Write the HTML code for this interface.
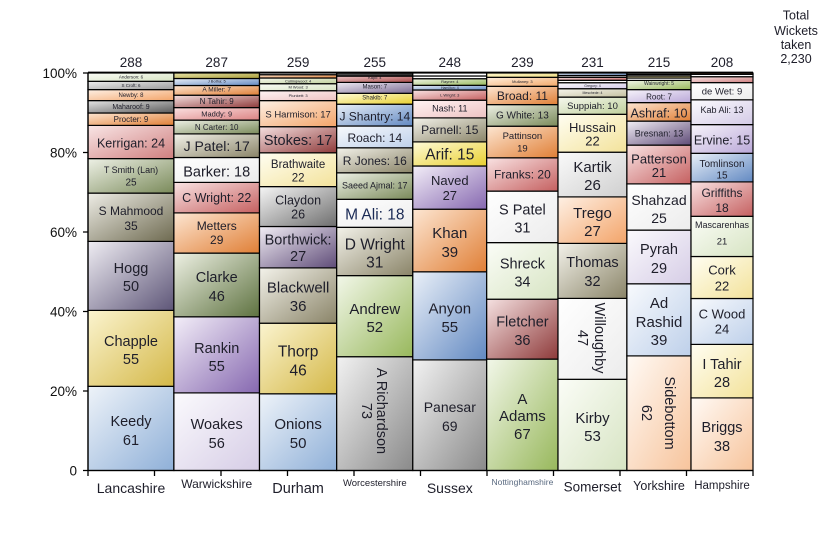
<!DOCTYPE html>
<html><head><meta charset="utf-8"><style>
html,body{margin:0;padding:0;background:#fff;}
svg{display:block;font-family:"Liberation Sans",sans-serif;}
text{fill:#1e1e2a;text-anchor:middle;}
.ax{text-anchor:end;fill:#111;}
</style></head><body>
<svg width="840" height="560" viewBox="0 0 840 560" xmlns="http://www.w3.org/2000/svg">
<defs>
<linearGradient id="bl" x1="0" y1="0" x2="1" y2="1"><stop offset="0" stop-color="#eef3f9"/><stop offset="1" stop-color="#8fb0d8"/></linearGradient>
<linearGradient id="ye" x1="0" y1="0" x2="1" y2="1"><stop offset="0" stop-color="#fbf4cf"/><stop offset="1" stop-color="#d4b848"/></linearGradient>
<linearGradient id="pg" x1="0" y1="0" x2="1" y2="1"><stop offset="0" stop-color="#efedf3"/><stop offset="1" stop-color="#5e5678"/></linearGradient>
<linearGradient id="kd" x1="0" y1="0" x2="1" y2="1"><stop offset="0" stop-color="#eeede6"/><stop offset="1" stop-color="#6e6a50"/></linearGradient>
<linearGradient id="sg" x1="0" y1="0" x2="1" y2="1"><stop offset="0" stop-color="#eef1e6"/><stop offset="1" stop-color="#7a8a5a"/></linearGradient>
<linearGradient id="pk" x1="0" y1="0" x2="1" y2="1"><stop offset="0" stop-color="#f9e6e6"/><stop offset="1" stop-color="#cf7f7f"/></linearGradient>
<linearGradient id="or" x1="0" y1="0" x2="1" y2="1"><stop offset="0" stop-color="#fde6d2"/><stop offset="1" stop-color="#e07f36"/></linearGradient>
<linearGradient id="gr" x1="0" y1="0" x2="1" y2="1"><stop offset="0" stop-color="#e6e6e6"/><stop offset="1" stop-color="#5a5a5a"/></linearGradient>
<linearGradient id="pe" x1="0" y1="0" x2="1" y2="1"><stop offset="0" stop-color="#fef0e4"/><stop offset="1" stop-color="#f3a469"/></linearGradient>
<linearGradient id="gl" x1="0" y1="0" x2="1" y2="1"><stop offset="0" stop-color="#eeeeee"/><stop offset="1" stop-color="#9a9a9a"/></linearGradient>
<linearGradient id="pgn" x1="0" y1="0" x2="1" y2="1"><stop offset="0" stop-color="#fbfdf7"/><stop offset="1" stop-color="#d7e4c3"/></linearGradient>
<linearGradient id="lv" x1="0" y1="0" x2="1" y2="1"><stop offset="0" stop-color="#fbfafd"/><stop offset="1" stop-color="#d6cde6"/></linearGradient>
<linearGradient id="pu" x1="0" y1="0" x2="1" y2="1"><stop offset="0" stop-color="#f3eef8"/><stop offset="1" stop-color="#8668b0"/></linearGradient>
<linearGradient id="ol" x1="0" y1="0" x2="1" y2="1"><stop offset="0" stop-color="#eef1e4"/><stop offset="1" stop-color="#5e7240"/></linearGradient>
<linearGradient id="rd" x1="0" y1="0" x2="1" y2="1"><stop offset="0" stop-color="#f9e3e3"/><stop offset="1" stop-color="#c56060"/></linearGradient>
<linearGradient id="wh" x1="0" y1="0" x2="1" y2="1"><stop offset="0" stop-color="#ffffff"/><stop offset="1" stop-color="#ececec"/></linearGradient>
<linearGradient id="kh" x1="0" y1="0" x2="1" y2="1"><stop offset="0" stop-color="#f3f2ea"/><stop offset="1" stop-color="#8a8468"/></linearGradient>
<linearGradient id="mp" x1="0" y1="0" x2="1" y2="1"><stop offset="0" stop-color="#fbe1e1"/><stop offset="1" stop-color="#dc8383"/></linearGradient>
<linearGradient id="dr" x1="0" y1="0" x2="1" y2="1"><stop offset="0" stop-color="#f5e1e1"/><stop offset="1" stop-color="#8e3a3a"/></linearGradient>
<linearGradient id="bm" x1="0" y1="0" x2="1" y2="1"><stop offset="0" stop-color="#eaf0f8"/><stop offset="1" stop-color="#6289c2"/></linearGradient>
<linearGradient id="oy" x1="0" y1="0" x2="1" y2="1"><stop offset="0" stop-color="#e8e4a8"/><stop offset="1" stop-color="#a89c38"/></linearGradient>
<linearGradient id="ly" x1="0" y1="0" x2="1" y2="1"><stop offset="0" stop-color="#fffef2"/><stop offset="1" stop-color="#f3e29a"/></linearGradient>
<linearGradient id="cg" x1="0" y1="0" x2="1" y2="1"><stop offset="0" stop-color="#f6f6f6"/><stop offset="1" stop-color="#6e6e6e"/></linearGradient>
<linearGradient id="bp" x1="0" y1="0" x2="1" y2="1"><stop offset="0" stop-color="#f2eef5"/><stop offset="1" stop-color="#5f4c78"/></linearGradient>
<linearGradient id="pp" x1="0" y1="0" x2="1" y2="1"><stop offset="0" stop-color="#fff4f4"/><stop offset="1" stop-color="#edc2c2"/></linearGradient>
<linearGradient id="ag" x1="0" y1="0" x2="1" y2="1"><stop offset="0" stop-color="#f2f2f2"/><stop offset="1" stop-color="#8a8a8a"/></linearGradient>
<linearGradient id="gn" x1="0" y1="0" x2="1" y2="1"><stop offset="0" stop-color="#f2f7e9"/><stop offset="1" stop-color="#98b85c"/></linearGradient>
<linearGradient id="pb" x1="0" y1="0" x2="1" y2="1"><stop offset="0" stop-color="#f8fafd"/><stop offset="1" stop-color="#bed0ea"/></linearGradient>
<linearGradient id="yb" x1="0" y1="0" x2="1" y2="1"><stop offset="0" stop-color="#fffbd8"/><stop offset="1" stop-color="#e8cf30"/></linearGradient>
<linearGradient id="ml" x1="0" y1="0" x2="1" y2="1"><stop offset="0" stop-color="#eeeaf2"/><stop offset="1" stop-color="#7c6c94"/></linearGradient>
<linearGradient id="kr" x1="0" y1="0" x2="1" y2="1"><stop offset="0" stop-color="#eec8c8"/><stop offset="1" stop-color="#a84848"/></linearGradient>
<linearGradient id="sp" x1="0" y1="0" x2="1" y2="1"><stop offset="0" stop-color="#fffaf5"/><stop offset="1" stop-color="#f7c49c"/></linearGradient>
<linearGradient id="kt" x1="0" y1="0" x2="1" y2="1"><stop offset="0" stop-color="#fafafa"/><stop offset="1" stop-color="#cfcfcf"/></linearGradient>
<linearGradient id="spg" x1="0" y1="0" x2="1" y2="1"><stop offset="0" stop-color="#f6f8ee"/><stop offset="1" stop-color="#bfd09c"/></linearGradient>
<linearGradient id="mk" x1="0" y1="0" x2="1" y2="1"><stop offset="0" stop-color="#f7f6ee"/><stop offset="1" stop-color="#c4c0a0"/></linearGradient>
<linearGradient id="plv" x1="0" y1="0" x2="1" y2="1"><stop offset="0" stop-color="#fcfbfe"/><stop offset="1" stop-color="#d3cae6"/></linearGradient>
<linearGradient id="po" x1="0" y1="0" x2="1" y2="1"><stop offset="0" stop-color="#fff0e0"/><stop offset="1" stop-color="#f2a868"/></linearGradient>
<linearGradient id="yl" x1="0" y1="0" x2="1" y2="1"><stop offset="0" stop-color="#fff8d0"/><stop offset="1" stop-color="#eedc80"/></linearGradient>
<linearGradient id="rv" x1="0" y1="0" x2="1" y2="1"><stop offset="0" stop-color="#f7f4fb"/><stop offset="1" stop-color="#baa8d8"/></linearGradient>
<linearGradient id="rk" x1="0" y1="0" x2="1" y2="1"><stop offset="0" stop-color="#555"/><stop offset="1" stop-color="#222"/></linearGradient>
</defs>

<g stroke="#000" stroke-width="1.2">
<!-- Lancashire x=88 w=85.9 -->
<rect x="88" y="386.3" width="85.9" height="84.2" fill="url(#bl)"/>
<rect x="88" y="310.4" width="85.9" height="75.9" fill="url(#ye)"/>
<rect x="88" y="241.4" width="85.9" height="69" fill="url(#pg)"/>
<rect x="88" y="193.1" width="85.9" height="48.3" fill="url(#kd)"/>
<rect x="88" y="158.6" width="85.9" height="34.5" fill="url(#sg)"/>
<rect x="88" y="125.4" width="85.9" height="33.2" fill="url(#pk)"/>
<rect x="88" y="113" width="85.9" height="12.4" fill="url(#or)"/>
<rect x="88" y="100.6" width="85.9" height="12.4" fill="url(#gr)"/>
<rect x="88" y="89.6" width="85.9" height="11" fill="url(#pe)"/>
<rect x="88" y="81.3" width="85.9" height="8.3" fill="url(#gl)"/>
<rect x="88" y="73" width="85.9" height="8.3" fill="url(#pgn)"/>
<!-- Warwickshire x=173.9 w=85.6 -->
<rect x="173.9" y="392.9" width="85.6" height="77.6" fill="url(#lv)"/>
<rect x="173.9" y="316.8" width="85.6" height="76.1" fill="url(#pu)"/>
<rect x="173.9" y="253.1" width="85.6" height="63.7" fill="url(#ol)"/>
<rect x="173.9" y="212.9" width="85.6" height="40.2" fill="url(#or)"/>
<rect x="173.9" y="182.4" width="85.6" height="30.5" fill="url(#rd)"/>
<rect x="173.9" y="157.5" width="85.6" height="24.9" fill="url(#wh)"/>
<rect x="173.9" y="133.9" width="85.6" height="23.6" fill="url(#kh)"/>
<rect x="173.9" y="120.1" width="85.6" height="13.8" fill="url(#sg)"/>
<rect x="173.9" y="107.6" width="85.6" height="12.5" fill="url(#mp)"/>
<rect x="173.9" y="95.2" width="85.6" height="12.4" fill="url(#dr)"/>
<rect x="173.9" y="85.5" width="85.6" height="9.7" fill="url(#or)"/>
<rect x="173.9" y="78.5" width="85.6" height="7" fill="url(#bm)"/>
<rect x="173.9" y="73" width="85.6" height="5.5" fill="url(#oy)"/>
<!-- Durham x=259.5 w=77.2 -->
<rect x="259.5" y="393.8" width="77.2" height="76.7" fill="url(#bl)"/>
<rect x="259.5" y="323.2" width="77.2" height="70.6" fill="url(#ye)"/>
<rect x="259.5" y="267.9" width="77.2" height="55.3" fill="url(#kh)"/>
<rect x="259.5" y="226.5" width="77.2" height="41.4" fill="url(#bp)"/>
<rect x="259.5" y="186.6" width="77.2" height="39.9" fill="url(#cg)"/>
<rect x="259.5" y="152.8" width="77.2" height="33.8" fill="url(#ly)"/>
<rect x="259.5" y="126.7" width="77.2" height="26.1" fill="url(#dr)"/>
<rect x="259.5" y="100.6" width="77.2" height="26.1" fill="url(#pe)"/>
<rect x="259.5" y="90.7" width="77.2" height="9.9" fill="url(#pp)"/>
<rect x="259.5" y="83.7" width="77.2" height="7" fill="url(#pgn)"/>
<rect x="259.5" y="78" width="77.2" height="5.7" fill="url(#spg)"/>
<rect x="259.5" y="74.7" width="77.2" height="3.3" fill="url(#or)"/>
<rect x="259.5" y="73" width="77.2" height="1.7" fill="#fff"/>
<!-- Worcestershire x=336.7 w=76.1 -->
<rect x="336.7" y="356.7" width="76.1" height="113.8" fill="url(#ag)"/>
<rect x="336.7" y="275.6" width="76.1" height="81.1" fill="url(#gn)"/>
<rect x="336.7" y="227.3" width="76.1" height="48.3" fill="url(#kh)"/>
<rect x="336.7" y="199.3" width="76.1" height="28" fill="url(#wh)"/>
<rect x="336.7" y="172.8" width="76.1" height="26.5" fill="url(#sg)"/>
<rect x="336.7" y="147.8" width="76.1" height="25" fill="url(#kh)"/>
<rect x="336.7" y="126" width="76.1" height="21.8" fill="url(#pb)"/>
<rect x="336.7" y="104.2" width="76.1" height="21.8" fill="url(#bm)"/>
<rect x="336.7" y="93.3" width="76.1" height="10.9" fill="url(#yb)"/>
<rect x="336.7" y="82.4" width="76.1" height="10.9" fill="url(#ml)"/>
<rect x="336.7" y="76.1" width="76.1" height="6.3" fill="url(#kr)"/>
<rect x="336.7" y="73" width="76.1" height="3.1" fill="url(#rk)"/>
<!-- Sussex x=412.8 w=73.9 -->
<rect x="412.8" y="359.9" width="73.9" height="110.6" fill="url(#ag)"/>
<rect x="412.8" y="271.8" width="73.9" height="88.1" fill="url(#bm)"/>
<rect x="412.8" y="209.2" width="73.9" height="62.6" fill="url(#or)"/>
<rect x="412.8" y="166" width="73.9" height="43.2" fill="url(#pu)"/>
<rect x="412.8" y="141.9" width="73.9" height="24.1" fill="url(#yb)"/>
<rect x="412.8" y="117.9" width="73.9" height="24" fill="url(#kh)"/>
<rect x="412.8" y="100.2" width="73.9" height="17.7" fill="url(#pp)"/>
<rect x="412.8" y="90" width="73.9" height="10.2" fill="url(#rd)"/>
<rect x="412.8" y="85.3" width="73.9" height="4.7" fill="url(#bm)"/>
<rect x="412.8" y="78.7" width="73.9" height="6.6" fill="url(#gn)"/>
<rect x="412.8" y="76" width="73.9" height="2.7" fill="#fff"/>
<rect x="412.8" y="73" width="73.9" height="3" fill="#fff"/>
<!-- Notts x=486.7 w=71.3 -->
<rect x="486.7" y="359.1" width="71.3" height="111.4" fill="url(#gn)"/>
<rect x="486.7" y="299.2" width="71.3" height="59.9" fill="url(#dr)"/>
<rect x="486.7" y="242.6" width="71.3" height="56.6" fill="url(#pgn)"/>
<rect x="486.7" y="191.1" width="71.3" height="51.5" fill="url(#wh)"/>
<rect x="486.7" y="157.8" width="71.3" height="33.3" fill="url(#rd)"/>
<rect x="486.7" y="126.2" width="71.3" height="31.6" fill="url(#or)"/>
<rect x="486.7" y="104.6" width="71.3" height="21.6" fill="url(#sg)"/>
<rect x="486.7" y="86.3" width="71.3" height="18.3" fill="url(#or)"/>
<rect x="486.7" y="77.3" width="71.3" height="9" fill="url(#po)"/>
<rect x="486.7" y="73" width="71.3" height="4.3" fill="url(#yl)"/>
<!-- Somerset x=558 w=68.9 -->
<rect x="558" y="379.3" width="68.9" height="91.2" fill="url(#pgn)"/>
<rect x="558" y="298.4" width="68.9" height="80.9" fill="url(#wh)"/>
<rect x="558" y="243.4" width="68.9" height="55" fill="url(#kh)"/>
<rect x="558" y="196.9" width="68.9" height="46.5" fill="url(#pe)"/>
<rect x="558" y="152.2" width="68.9" height="44.7" fill="url(#kt)"/>
<rect x="558" y="114.3" width="68.9" height="37.9" fill="url(#ly)"/>
<rect x="558" y="97.1" width="68.9" height="17.2" fill="url(#spg)"/>
<rect x="558" y="88.7" width="68.9" height="8.4" fill="url(#mk)"/>
<rect x="558" y="82.7" width="68.9" height="6" fill="url(#plv)"/>
<rect x="558" y="80.3" width="68.9" height="2.4" fill="#fff"/>
<rect x="558" y="77.3" width="68.9" height="3" fill="url(#rd)"/>
<rect x="558" y="75.5" width="68.9" height="1.8" fill="#fff"/>
<rect x="558" y="73" width="68.9" height="2.5" fill="url(#bm)"/>
<!-- Yorkshire x=626.9 w=64.1 -->
<rect x="626.9" y="355.9" width="64.1" height="114.6" fill="url(#sp)"/>
<rect x="626.9" y="283.8" width="64.1" height="72.1" fill="url(#pb)"/>
<rect x="626.9" y="230.1" width="64.1" height="53.7" fill="url(#lv)"/>
<rect x="626.9" y="183.9" width="64.1" height="46.2" fill="url(#wh)"/>
<rect x="626.9" y="145.1" width="64.1" height="38.8" fill="url(#rd)"/>
<rect x="626.9" y="121.1" width="64.1" height="24" fill="url(#bp)"/>
<rect x="626.9" y="102.6" width="64.1" height="18.5" fill="url(#or)"/>
<rect x="626.9" y="89.6" width="64.1" height="13" fill="url(#rv)"/>
<rect x="626.9" y="80.4" width="64.1" height="9.2" fill="url(#gn)"/>
<rect x="626.9" y="78" width="64.1" height="2.4" fill="#fff"/>
<rect x="626.9" y="76" width="64.1" height="2" fill="url(#yl)"/>
<rect x="626.9" y="74.5" width="64.1" height="1.5" fill="#fff"/>
<rect x="626.9" y="73" width="64.1" height="1.5" fill="#888"/>
<!-- Hampshire x=691 w=62 -->
<rect x="691" y="397.9" width="62" height="72.6" fill="url(#sp)"/>
<rect x="691" y="344.4" width="62" height="53.5" fill="url(#ly)"/>
<rect x="691" y="298.5" width="62" height="45.9" fill="url(#pb)"/>
<rect x="691" y="256.5" width="62" height="42" fill="url(#ly)"/>
<rect x="691" y="216.3" width="62" height="40.2" fill="url(#pgn)"/>
<rect x="691" y="181.9" width="62" height="34.4" fill="url(#rd)"/>
<rect x="691" y="153.3" width="62" height="28.6" fill="url(#bm)"/>
<rect x="691" y="124.6" width="62" height="28.7" fill="url(#rv)"/>
<rect x="691" y="99.8" width="62" height="24.8" fill="url(#plv)"/>
<rect x="691" y="82.6" width="62" height="17.2" fill="url(#wh)"/>
<rect x="691" y="76.7" width="62" height="5.9" fill="url(#pk)"/>
<rect x="691" y="74.3" width="62" height="2.4" fill="#fff"/>
<rect x="691" y="73" width="62" height="1.3" fill="#f4a868"/>
</g>

<!-- axes -->
<g stroke="#000" stroke-width="1.3" fill="none">
<line x1="88" y1="72.5" x2="753" y2="72.5" stroke-width="1.8"/>
<line x1="88" y1="72.5" x2="88" y2="470.5"/>
<line x1="88" y1="470.5" x2="753" y2="470.5"/>
<path d="M83 73H88M83 152.5H88M83 232H88M83 311.5H88M83 391H88M83 470.5H88"/>
<path d="M88 470.5V476M154.5 470.5V476M221 470.5V476M287.5 470.5V476M354 470.5V476M420.5 470.5V476M487 470.5V476M553.5 470.5V476M620 470.5V476M686.5 470.5V476M753 470.5V476"/>
</g>

<g style="font-size:13.5px">
<text class="ax" x="77" y="78">100%</text>
<text class="ax" x="77" y="157.5">80%</text>
<text class="ax" x="77" y="237">60%</text>
<text class="ax" x="77" y="316.5">40%</text>
<text class="ax" x="77" y="396">20%</text>
<text class="ax" x="77" y="475.5">0</text>
</g>

<!-- totals -->
<g style="font-size:13.5px">
<text x="131" y="67">288</text>
<text x="216.7" y="67">287</text>
<text x="298.1" y="67">259</text>
<text x="374.8" y="67">255</text>
<text x="449.8" y="67">248</text>
<text x="522.4" y="67">239</text>
<text x="592.5" y="67">231</text>
<text x="659" y="67">215</text>
<text x="722" y="67">208</text>
</g>
<g style="font-size:12.5px">
<text x="796" y="19.5">Total</text>
<text x="796" y="35">Wickets</text>
<text x="796" y="48.8">taken</text>
<text x="796" y="62.8">2,230</text>
</g>

<!-- county labels -->
<text x="131" y="493" style="font-size:14px">Lancashire</text>
<text x="216.7" y="488" style="font-size:12px">Warwickshire</text>
<text x="298.1" y="493" style="font-size:14.5px">Durham</text>
<text x="374.8" y="486" style="font-size:9.5px">Worcestershire</text>
<text x="449.8" y="493" style="font-size:14px">Sussex</text>
<text x="522.4" y="485" style="font-size:8.5px;fill:#5a6a80">Nottinghamshire</text>
<text x="592.5" y="491.5" style="font-size:13.5px">Somerset</text>
<text x="659" y="490" style="font-size:12.5px">Yorkshire</text>
<text x="722" y="489" style="font-size:11.5px">Hampshire</text>

<!-- Lancashire labels -->
<g>
<text x="131" y="426" style="font-size:14.5px">Keedy</text><text x="131" y="445" style="font-size:14.5px">61</text>
<text x="131" y="346" style="font-size:14.5px">Chapple</text><text x="131" y="364" style="font-size:14.5px">55</text>
<text x="131" y="273" style="font-size:14.5px">Hogg</text><text x="131" y="291" style="font-size:14.5px">50</text>
<text x="131" y="215" style="font-size:12px">S Mahmood</text><text x="131" y="230" style="font-size:12px">35</text>
<text x="131" y="173" style="font-size:9px">T Smith (Lan)</text><text x="131" y="185.5" style="font-size:10px">25</text>
<text x="131" y="147.5" style="font-size:12.5px">Kerrigan: 24</text>
<text x="131" y="122" style="font-size:8px">Procter: 9</text>
<text x="131" y="109" style="font-size:7px">Maharoof: 9</text>
<text x="131" y="97" style="font-size:6px">Newby: 8</text>
<text x="131" y="87" style="font-size:4.5px">S Croft: 6</text>
<text x="131" y="78.5" style="font-size:4.5px">Anderson: 6</text>
</g>
<!-- Warwickshire labels -->
<g>
<text x="216.7" y="429" style="font-size:14.5px">Woakes</text><text x="216.7" y="448" style="font-size:14.5px">56</text>
<text x="216.7" y="353" style="font-size:14.5px">Rankin</text><text x="216.7" y="371" style="font-size:14.5px">55</text>
<text x="216.7" y="282" style="font-size:14.5px">Clarke</text><text x="216.7" y="301" style="font-size:14.5px">46</text>
<text x="216.7" y="230" style="font-size:12px">Metters</text><text x="216.7" y="244" style="font-size:12px">29</text>
<text x="216.7" y="202" style="font-size:12.5px">C Wright: 22</text>
<text x="216.7" y="176.5" style="font-size:14.5px">Barker: 18</text>
<text x="216.7" y="151" style="font-size:14px">J Patel: 17</text>
<text x="216.7" y="130" style="font-size:8px">N Carter: 10</text>
<text x="216.7" y="116.5" style="font-size:7.5px">Maddy: 9</text>
<text x="216.7" y="104" style="font-size:8px">N Tahir: 9</text>
<text x="216.7" y="91.5" style="font-size:6.5px">A Miller: 7</text>
<text x="216.7" y="82.5" style="font-size:4px">J Botha: 5</text>
</g>
<!-- Durham labels -->
<g>
<text x="298.1" y="429" style="font-size:15px">Onions</text><text x="298.1" y="448" style="font-size:15px">50</text>
<text x="298.1" y="356.5" style="font-size:15.5px">Thorp</text><text x="298.1" y="375.5" style="font-size:15.5px">46</text>
<text x="298.1" y="292.5" style="font-size:15px">Blackwell</text><text x="298.1" y="311" style="font-size:15px">36</text>
<text x="298.1" y="244.5" style="font-size:14.5px">Borthwick:</text><text x="298.1" y="261" style="font-size:14.5px">27</text>
<text x="298.1" y="204.5" style="font-size:12.5px">Claydon</text><text x="298.1" y="218.7" style="font-size:12.5px">26</text>
<text x="298.1" y="168" style="font-size:11.5px">Brathwaite</text><text x="298.1" y="181.7" style="font-size:11.5px">22</text>
<text x="298.1" y="145" style="font-size:14.5px">Stokes: 17</text>
<text x="298.1" y="117.5" style="font-size:9.5px">S Harmison: 17</text>
<text x="298.1" y="97" style="font-size:4px">Plunkett: 3</text>
<text x="298.1" y="88.5" style="font-size:4px">M Wood: 3</text>
<text x="298.1" y="82.5" style="font-size:4px">Collingwood: 4</text>
</g>
<!-- Worcestershire labels -->
<g>
<g transform="rotate(90 374.5 411)"><text x="374.5" y="408.5" style="font-size:14.5px">A Richardson</text><text x="374.5" y="423.5" style="font-size:14.5px">73</text></g>
<text x="374.8" y="314" style="font-size:15px">Andrew</text><text x="374.8" y="332" style="font-size:15px">52</text>
<text x="374.8" y="249.5" style="font-size:15.5px">D Wright</text><text x="374.8" y="267.5" style="font-size:15.5px">31</text>
<text x="374.8" y="219.5" style="font-size:15.5px;fill:#1a2a55">M Ali: 18</text>
<text x="374.8" y="188.5" style="font-size:9px">Saeed Ajmal: 17</text>
<text x="374.8" y="165" style="font-size:12px">R Jones: 16</text>
<text x="374.8" y="142" style="font-size:12px">Roach: 14</text>
<text x="374.8" y="120.5" style="font-size:12px">J Shantry: 14</text>
<text x="374.8" y="99.7" style="font-size:6px">Shakib: 7</text>
<text x="374.8" y="88.7" style="font-size:6px">Mason: 7</text>
<text x="374.8" y="79" style="font-size:4px">Kapil: 4</text>
</g>
<!-- Sussex labels -->
<g>
<text x="449.8" y="412" style="font-size:14px">Panesar</text><text x="449.8" y="431" style="font-size:14px">69</text>
<text x="449.8" y="313.5" style="font-size:15px">Anyon</text><text x="449.8" y="332" style="font-size:15px">55</text>
<text x="449.8" y="238" style="font-size:15px">Khan</text><text x="449.8" y="257" style="font-size:15px">39</text>
<text x="449.8" y="185" style="font-size:13px">Naved</text><text x="449.8" y="200" style="font-size:13px">27</text>
<text x="449.8" y="159.7" style="font-size:15.5px">Arif: 15</text>
<text x="449.8" y="134" style="font-size:12px">Parnell: 15</text>
<text x="449.8" y="111.5" style="font-size:9px">Nash: 11</text>
<text x="449.8" y="96.5" style="font-size:4px">L Wright: 3</text>
<text x="449.8" y="89" style="font-size:3.5px">Hamilton: 4</text>
<text x="449.8" y="83" style="font-size:4px">Rayner: 4</text>
</g>
<!-- Notts labels -->
<g>
<text x="522.4" y="404" style="font-size:15px">A</text><text x="522.4" y="421" style="font-size:15px">Adams</text><text x="522.4" y="439" style="font-size:15px">67</text>
<text x="522.4" y="326.7" style="font-size:14.5px">Fletcher</text><text x="522.4" y="345" style="font-size:14.5px">36</text>
<text x="522.4" y="268.5" style="font-size:14.5px">Shreck</text><text x="522.4" y="286.7" style="font-size:14.5px">34</text>
<text x="522.4" y="214.5" style="font-size:14.5px">S Patel</text><text x="522.4" y="232.7" style="font-size:14.5px">31</text>
<text x="522.4" y="178.5" style="font-size:12px">Franks: 20</text>
<text x="522.4" y="139" style="font-size:9.5px">Pattinson</text><text x="522.4" y="151.7" style="font-size:9.5px">19</text>
<text x="522.4" y="118.5" style="font-size:10px">G White: 13</text>
<text x="522.4" y="100" style="font-size:12px">Broad: 11</text>
<text x="522.4" y="83" style="font-size:4px">Mullaney: 3</text>
</g>
<!-- Somerset labels -->
<g>
<text x="592.5" y="423" style="font-size:15px">Kirby</text><text x="592.5" y="441" style="font-size:15px">53</text>
<g transform="rotate(90 591.5 338)"><text x="591.5" y="334.5" style="font-size:14.5px">Willoughby</text><text x="591.5" y="351.5" style="font-size:14.5px">47</text></g>
<text x="592.5" y="267" style="font-size:14.5px">Thomas</text><text x="592.5" y="286" style="font-size:14.5px">32</text>
<text x="592.5" y="218" style="font-size:15px">Trego</text><text x="592.5" y="236" style="font-size:15px">27</text>
<text x="592.5" y="172" style="font-size:15px">Kartik</text><text x="592.5" y="190" style="font-size:15px">26</text>
<text x="592.5" y="132" style="font-size:13px">Hussain</text><text x="592.5" y="145.5" style="font-size:13px">22</text>
<text x="592.5" y="109" style="font-size:9.5px">Suppiah: 10</text>
<text x="592.5" y="94" style="font-size:3.5px">Meschede: 4</text>
<text x="592.5" y="87" style="font-size:3.5px">Gregory: 4</text>
</g>
<!-- Yorkshire labels -->
<g>
<g transform="rotate(90 658.5 413)"><text x="658.5" y="406.5" style="font-size:14.5px">Sidebottom</text><text x="658.5" y="429.5" style="font-size:14.5px">62</text></g>
<text x="659" y="308" style="font-size:15px">Ad</text><text x="659" y="327" style="font-size:15px">Rashid</text><text x="659" y="345" style="font-size:15px">39</text>
<text x="659" y="254" style="font-size:14.5px">Pyrah</text><text x="659" y="273" style="font-size:14.5px">29</text>
<text x="659" y="205" style="font-size:14px">Shahzad</text><text x="659" y="223" style="font-size:14px">25</text>
<text x="659" y="163.5" style="font-size:13px">Patterson</text><text x="659" y="177" style="font-size:13px">21</text>
<text x="659" y="136.5" style="font-size:9px">Bresnan: 13</text>
<text x="659" y="117.7" style="font-size:12.5px">Ashraf: 10</text>
<text x="659" y="99.5" style="font-size:8px">Root: 7</text>
<text x="659" y="85" style="font-size:5px">Wainwright: 5</text>
</g>
<!-- Hampshire labels -->
<g>
<text x="722" y="432" style="font-size:14.5px">Briggs</text><text x="722" y="451" style="font-size:14.5px">38</text>
<text x="722" y="369" style="font-size:14.5px">I Tahir</text><text x="722" y="387" style="font-size:14.5px">28</text>
<text x="722" y="318.5" style="font-size:13px">C Wood</text><text x="722" y="333.5" style="font-size:13px">24</text>
<text x="722" y="274.5" style="font-size:13px">Cork</text><text x="722" y="290.5" style="font-size:13px">22</text>
<text x="722" y="228" style="font-size:9px">Mascarenhas</text><text x="722" y="244.3" style="font-size:9.5px">21</text>
<text x="722" y="197" style="font-size:12px">Griffiths</text><text x="722" y="212" style="font-size:12px">18</text>
<text x="722" y="166.8" style="font-size:10px">Tomlinson</text><text x="722" y="178.5" style="font-size:10px">15</text>
<text x="722" y="144.4" style="font-size:12.5px">Ervine: 15</text>
<text x="722" y="113" style="font-size:9px">Kab Ali: 13</text>
<text x="722" y="94.3" style="font-size:9.5px">de Wet: 9</text>
</g>
</svg>
</body></html>
